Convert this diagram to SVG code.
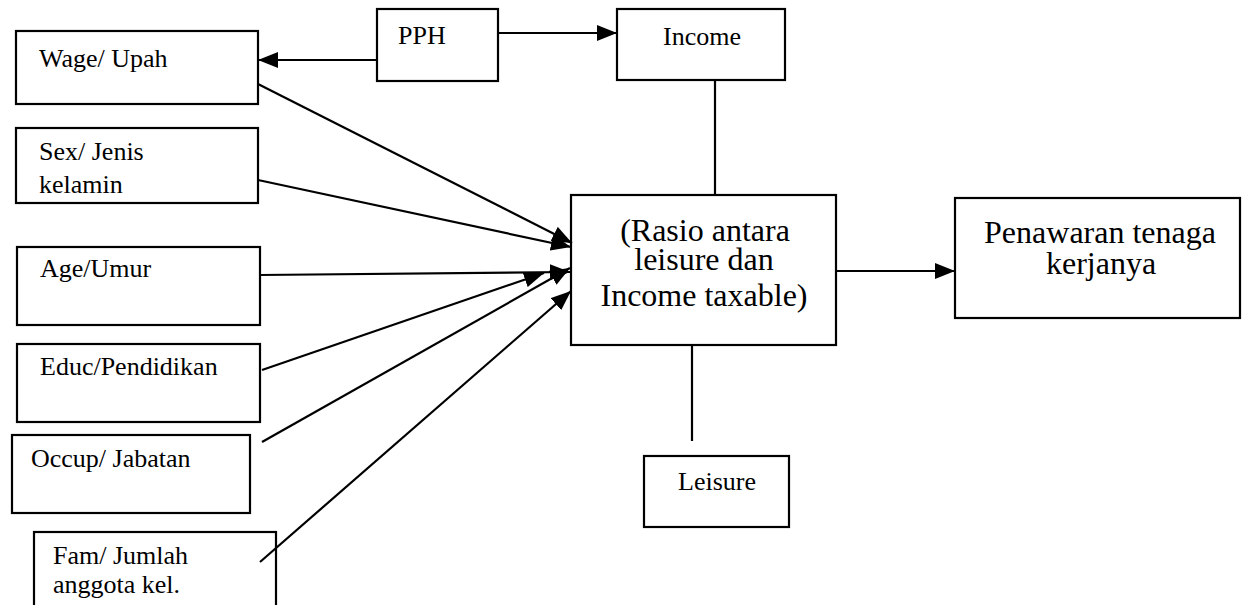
<svg xmlns="http://www.w3.org/2000/svg" width="1242" height="605" viewBox="0 0 1242 605">
<style>
rect.box{fill:#fff;stroke:#000;stroke-width:2.2}
text{font-family:"Liberation Serif","Times New Roman",serif;fill:#000}
.s{font-size:26px}
.l{font-size:32px;text-anchor:middle}
.c line{stroke:#000;stroke-width:2.2;fill:none}
</style>
<defs>
<marker id="ah" markerUnits="userSpaceOnUse" markerWidth="22" markerHeight="16" refX="20" refY="8" orient="auto">
<path d="M0,0 L20,8 L0,16 Z" fill="#000"/>
</marker>
</defs>
<rect width="1242" height="605" fill="#fff"/>
<g id="wage"><rect class="box" x="16" y="31" width="242" height="73"/><text class="s" x="39" y="67">Wage/ Upah</text></g>
<g id="sex"><rect class="box" x="16" y="128" width="242" height="75"/><text class="s" x="39" y="160">Sex/ Jenis</text><text class="s" x="39" y="193">kelamin</text></g>
<g id="age"><rect class="box" x="17" y="247" width="243" height="78"/><text class="s" x="40" y="277">Age/Umur</text></g>
<g id="educ"><rect class="box" x="17" y="344" width="243" height="78"/><text class="s" x="40" y="375">Educ/Pendidikan</text></g>
<g id="occup"><rect class="box" x="12" y="435" width="238" height="78"/><text class="s" x="31" y="467">Occup/ Jabatan</text></g>
<g id="fam"><rect class="box" x="34" y="532" width="242" height="90"/><text class="s" x="53" y="564">Fam/ Jumlah</text><text class="s" x="53" y="593">anggota kel.</text></g>
<g id="pph"><rect class="box" x="377" y="9" width="121" height="72"/><text class="s" x="398" y="44">PPH</text></g>
<g id="income"><rect class="box" x="617" y="9" width="168" height="71"/><text class="s" x="663" y="45">Income</text></g>
<g id="rasio"><rect class="box" x="571" y="195" width="265" height="150"/><text class="l" x="705" y="241">(Rasio antara</text><text class="l" x="704" y="270">leisure dan</text><text class="l" x="704" y="306">Income taxable)</text></g>
<g id="penawaran"><rect class="box" x="955" y="198" width="285" height="120"/><text class="l" x="1100" y="243">Penawaran tenaga</text><text class="l" x="1101" y="274">kerjanya</text></g>
<g id="leisure"><rect class="box" x="644" y="456" width="145" height="71"/><text class="s" x="678" y="490">Leisure</text></g>
<g class="c" id="connectors">
<line x1="377" y1="60" x2="258" y2="60" marker-end="url(#ah)"/>
<line x1="498" y1="33" x2="617" y2="33" marker-end="url(#ah)"/>
<line x1="715" y1="80" x2="715" y2="195"/>
<line x1="692" y1="345" x2="692" y2="441"/>
<line x1="836" y1="271" x2="955" y2="271" marker-end="url(#ah)"/>
<line x1="258" y1="84" x2="572" y2="243" marker-end="url(#ah)"/>
<line x1="258" y1="180" x2="571" y2="247" marker-end="url(#ah)"/>
<line x1="260" y1="275" x2="570" y2="272" marker-end="url(#ah)"/>
<line x1="262" y1="370" x2="544" y2="273" marker-end="url(#ah)"/>
<line x1="262" y1="442" x2="570" y2="268" marker-end="url(#ah)"/>
<line x1="260" y1="562" x2="571" y2="291" marker-end="url(#ah)"/>
</g>
</svg>
